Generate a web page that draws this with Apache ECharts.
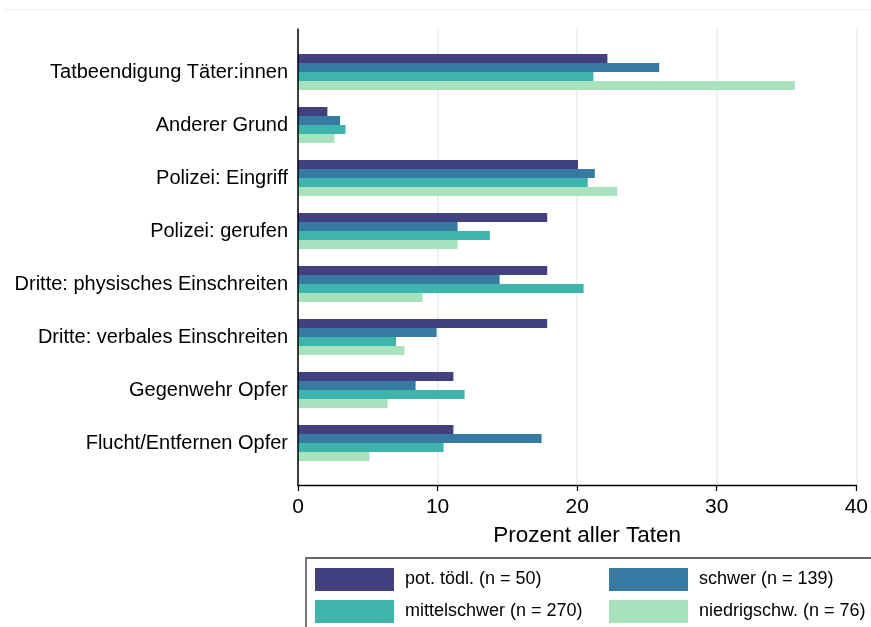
<!DOCTYPE html>
<html>
<head>
<meta charset="utf-8">
<script src="https://cdn.jsdelivr.net/npm/echarts@6/dist/echarts.min.js"></script>
<style>
  html, body { margin: 0; padding: 0; background: #fff; }
  #chart { width: 871px; height: 627px; }
</style>
</head>
<body>
<div id="chart"></div>
<script>
// Kategorien (von oben nach unten)
var categories = [
  'Tatbeendigung Täter:innen',
  'Anderer Grund',
  'Polizei: Eingriff',
  'Polizei: gerufen',
  'Dritte: physisches Einschreiten',
  'Dritte: verbales Einschreiten',
  'Gegenwehr Opfer',
  'Flucht/Entfernen Opfer'
];
var seriesNames = ['pot. tödl. (n = 50)', 'schwer (n = 139)', 'mittelschwer (n = 270)', 'niedrigschw. (n = 76)'];
var potToedl   = [22.1, 2.1, 20.0, 17.8, 17.8, 17.8, 11.1, 11.1];
var schwer     = [25.8, 3.0, 21.2, 11.4, 14.4, 9.9, 8.4, 17.4];
var mittel     = [21.1, 3.4, 20.7, 13.7, 20.4, 7.0, 11.9, 10.4];
var niedrig    = [35.5, 2.6, 22.8, 11.4, 8.9, 7.6, 6.4, 5.1];
var xTicks     = [0, 10, 20, 30, 40];

var colors = ['#42407f', '#367aa2', '#3eb4ad', '#a8e2bd'];
var values = [potToedl, schwer, mittel, niedrig];

var chart = echarts.init(document.getElementById('chart'));
var font = 'Arial, "Liberation Sans", sans-serif';

var series = values.map(function (v, i) {
  return {
    name: seriesNames[i],
    type: 'bar',
    xAxisIndex: 1,
    yAxisIndex: 1,
    barWidth: 9,
    barGap: '0%',
    itemStyle: { color: colors[i] },
    data: v
  };
});

var legendText = { fontSize: 18, color: '#000', fontFamily: font, padding: [0, 0, 0, 6] };

var option = {
  backgroundColor: '#fff',
  animation: false,
  color: colors,
  textStyle: { fontFamily: font },
  grid: [
    { left: 298, top: 29, width: 560, height: 456 },   // Achsen + Gitter
    { left: 298, top: 45.5, width: 560, height: 424 }  // Balken
  ],
  xAxis: [
    {
      gridIndex: 0, type: 'value',
      min: xTicks[0], max: xTicks[xTicks.length - 1], interval: 10,
      name: 'Prozent aller Taten', nameLocation: 'middle', nameGap: 39,
      nameTextStyle: { fontSize: 22.5, color: '#000', fontFamily: font, padding: [0, 0, 0, 20] },
      axisLine: { show: true, lineStyle: { color: '#000', width: 1.3 } },
      axisTick: { show: true, length: 6, lineStyle: { color: '#000', width: 1.3 } },
      axisLabel: { fontSize: 21, color: '#000', margin: 12, fontFamily: font },
      splitLine: { show: true, lineStyle: { color: '#e5ecee', width: 1.5 } }
    },
    { gridIndex: 1, type: 'value', min: 0, max: 40, show: false }
  ],
  yAxis: [
    {
      gridIndex: 0, type: 'value', min: 0, max: 1, z: 10,
      axisLine: { show: true, onZero: false, lineStyle: { color: '#000', width: 1.5 } },
      axisTick: { show: false }, axisLabel: { show: false }, splitLine: { show: false }
    },
    {
      gridIndex: 1, type: 'category', inverse: true, data: categories,
      axisLine: { show: false }, axisTick: { show: false },
      axisLabel: { fontSize: 20, color: '#000', margin: 10, fontFamily: font },
      splitLine: { show: false }
    }
  ],
  legend: [
    {
      orient: 'vertical', left: 315, top: 568, padding: 0,
      itemWidth: 79, itemHeight: 23, itemGap: 9,
      icon: 'rect', data: [seriesNames[0], seriesNames[2]],
      textStyle: legendText
    },
    {
      orient: 'vertical', left: 609, top: 568, padding: 0,
      itemWidth: 79, itemHeight: 23, itemGap: 9,
      icon: 'rect', data: [seriesNames[1], seriesNames[3]],
      textStyle: legendText
    }
  ],
  graphic: [
    { type: 'line', shape: { x1: 5, y1: 9.5, x2: 871, y2: 9.5 }, style: { stroke: '#eeeeee', lineWidth: 1 } },
    { type: 'rect', shape: { x: 306, y: 558, width: 570, height: 80 }, style: { fill: 'none', stroke: '#333', lineWidth: 1.3 } }
  ],
  series: series
};

chart.setOption(option);
</script>
</body>
</html>
